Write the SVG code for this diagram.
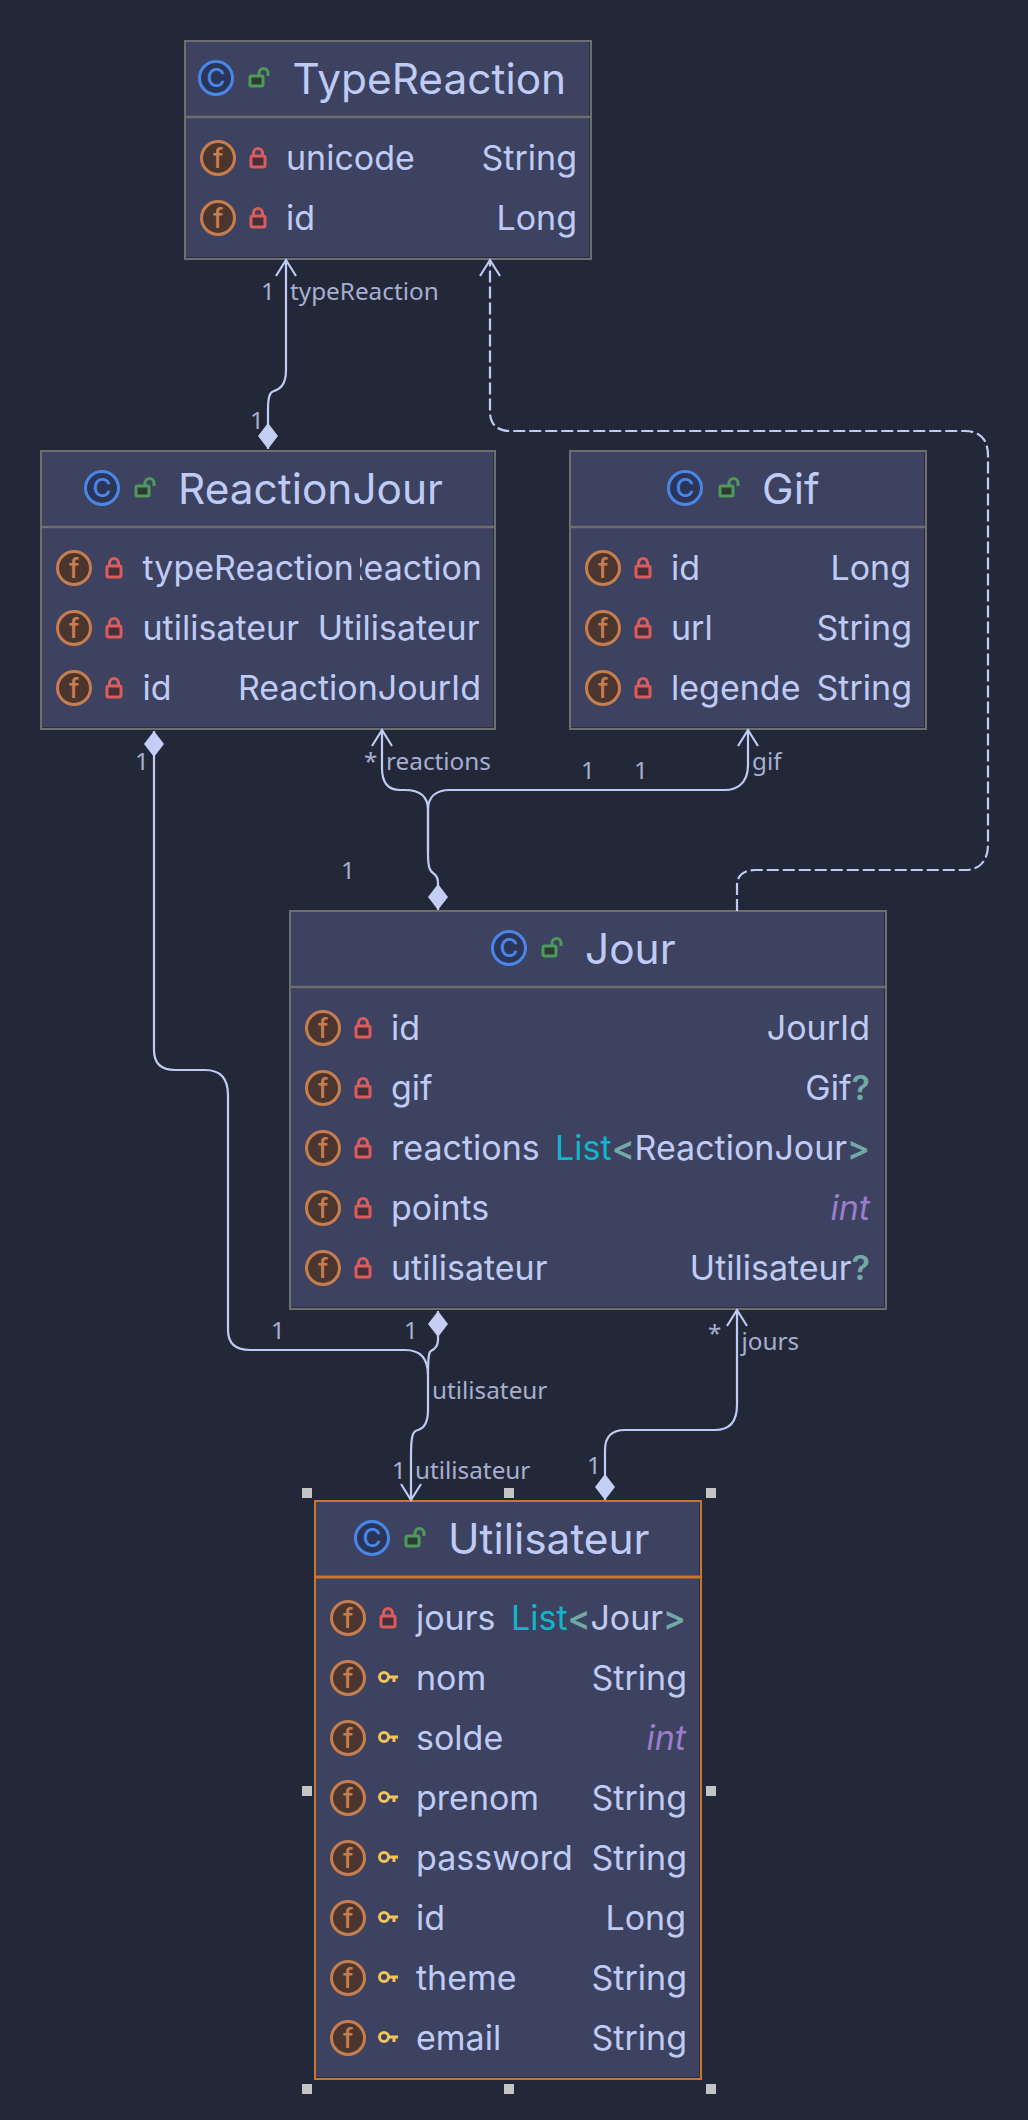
<svg xmlns="http://www.w3.org/2000/svg" width="1028" height="2120" viewBox="0 0 1028 2120">
<style>
.box{fill:#3c4260;stroke:#6d6e6e;stroke-width:2}
.sel{fill:#3c4260;stroke:#c7752f;stroke-width:2}
.hd{stroke:#6d6e6e;stroke-width:2.5}
.hds{stroke:#c7752f;stroke-width:3}
.in{fill:none;stroke:#2a2e40;stroke-width:1}
.title{font:42.4px Inter,"Liberation Sans",sans-serif;fill:#bfcbf5}
.n{font:34px Inter,"Liberation Sans",sans-serif;fill:#bfcbf5}
.t{font:34px Inter,"Liberation Sans",sans-serif;fill:#bfcbf5;text-anchor:end}
.cI{fill:#2a3557;stroke:#4a86e8;stroke-width:3}
.cT{font:500 26px Inter,"Liberation Sans",sans-serif;fill:#4a86e8;text-anchor:middle}
.fI{fill:#4a362e;stroke:#c77d4e;stroke-width:3}
.fT{font:500 27px Inter,"Liberation Sans",sans-serif;fill:#c77d4e;text-anchor:middle}
.l{font:24.3px "Noto Sans","Open Sans",sans-serif;fill:#a7aed0}
.e{fill:none;stroke:#bfcbf5;stroke-width:2.2}
.d{stroke-dasharray:12 4}
.list{fill:#12b5cb}.op{fill:#72a8a8;font-weight:600}.int{fill:#9a7ecc;font-style:italic}
.h{fill:#c4c4c4}
</style>
<defs>
<marker id="arrow" markerUnits="userSpaceOnUse" markerWidth="20" markerHeight="24" overflow="visible" orient="auto" refX="0" refY="0"><path d="M-16 -10L0 0L-16 10" fill="none" stroke="#bfcbf5" stroke-width="2.2"/></marker>
<marker id="dia" markerUnits="userSpaceOnUse" markerWidth="30" markerHeight="24" overflow="visible" orient="auto" refX="0" refY="0"><path d="M0 0L13 -10L26 0L13 10Z" fill="#c5cff5"/></marker>
<g id="lock"><rect x="-7" y="-2" width="14" height="11" rx="1.5" fill="#45303a" stroke="#db5c5c" stroke-width="3"/><path d="M-4.500 -2V-5a4.500 4.500 0 0 1 9 0V-2" fill="none" stroke="#db5c5c" stroke-width="3"/></g>
<g id="unlock"><rect x="-8" y="-2" width="13" height="10" rx="1.5" fill="#2d3a33" stroke="#4f9a5a" stroke-width="3"/><path d="M1 -2V-5a4.500 4.500 0 0 1 9 0V-2" fill="none" stroke="#4f9a5a" stroke-width="3"/></g>
<g id="key"><g fill="none" stroke="#f2c55c" stroke-width="3"><circle cx="-4" cy="-1" r="4.500"/><path d="M0.500 -1H10M6 -1V4"/></g></g>
<clipPath id="clipT"><rect x="360" y="540" width="130" height="50"/></clipPath>
</defs>
<rect width="1028" height="2120" fill="#232838"/>

<g id="TypeReaction">
<rect class="box" x="185" y="41" width="406" height="218"/>
<path class="in" d="M186 257.500H589.500V42"/>
<line class="hd" x1="186" y1="117" x2="590" y2="117"/>
<circle class="cI" cx="216" cy="78" r="16.500"/><text class="cT" x="216" y="87">C</text>
<use href="#unlock" x="258" y="78"/>
<text class="title" x="292.500" y="94">TypeReaction</text>
<circle class="fI" cx="218" cy="158" r="16.500"/><text class="fT" x="218" y="167.500">f</text><use href="#lock" x="258" y="158"/>
<text class="n" x="286" y="169.500">unicode</text><text class="t" x="577" y="169.500">String</text>
<circle class="fI" cx="218" cy="218" r="16.500"/><text class="fT" x="218" y="227.500">f</text><use href="#lock" x="258" y="218"/>
<text class="n" x="286" y="229.500">id</text><text class="t" x="577" y="229.500">Long</text>
</g>

<g id="ReactionJour">
<rect class="box" x="41" y="451" width="454" height="278"/>
<path class="in" d="M42 727.500H493.500V452"/>
<line class="hd" x1="42" y1="527" x2="494" y2="527"/>
<circle class="cI" cx="102" cy="488" r="16.500"/><text class="cT" x="102" y="497">C</text>
<use href="#unlock" x="144" y="488"/>
<text class="title" x="178" y="504">ReactionJour</text>
<circle class="fI" cx="74" cy="568" r="16.500"/><text class="fT" x="74" y="577.500">f</text><use href="#lock" x="114" y="568"/>
<text class="n" x="142.500" y="580">typeReaction</text><text class="t" x="482" y="580" clip-path="url(#clipT)">TypeReaction</text>
<circle class="fI" cx="74" cy="628" r="16.500"/><text class="fT" x="74" y="637.500">f</text><use href="#lock" x="114" y="628"/>
<text class="n" x="142.500" y="640">utilisateur</text><text class="t" x="479.500" y="640">Utilisateur</text>
<circle class="fI" cx="74" cy="688" r="16.500"/><text class="fT" x="74" y="697.500">f</text><use href="#lock" x="114" y="688"/>
<text class="n" x="142.500" y="700">id</text><text class="t" x="481" y="700">ReactionJourId</text>
</g>

<g id="Gif">
<rect class="box" x="570" y="451" width="356" height="278"/>
<path class="in" d="M571 727.500H924.500V452"/>
<line class="hd" x1="571" y1="527" x2="925" y2="527"/>
<circle class="cI" cx="685" cy="488" r="16.500"/><text class="cT" x="685" y="497">C</text>
<use href="#unlock" x="728" y="488"/>
<text class="title" x="762" y="504">Gif</text>
<circle class="fI" cx="603" cy="568" r="16.500"/><text class="fT" x="603" y="577.500">f</text><use href="#lock" x="643" y="568"/>
<text class="n" x="671" y="580">id</text><text class="t" x="911" y="580">Long</text>
<circle class="fI" cx="603" cy="628" r="16.500"/><text class="fT" x="603" y="637.500">f</text><use href="#lock" x="643" y="628"/>
<text class="n" x="671" y="640">url</text><text class="t" x="912" y="640">String</text>
<circle class="fI" cx="603" cy="688" r="16.500"/><text class="fT" x="603" y="697.500">f</text><use href="#lock" x="643" y="688"/>
<text class="n" x="671" y="700">legende</text><text class="t" x="912" y="700">String</text>
</g>

<g id="Jour">
<rect class="box" x="290" y="911" width="596" height="398"/>
<path class="in" d="M291 1307.500H884.500V912"/>
<line class="hd" x1="291" y1="987" x2="885" y2="987"/>
<circle class="cI" cx="509" cy="948" r="16.500"/><text class="cT" x="509" y="957">C</text>
<use href="#unlock" x="551" y="948"/>
<text class="title" x="585" y="964">Jour</text>
<circle class="fI" cx="323" cy="1028" r="16.500"/><text class="fT" x="323" y="1037.500">f</text><use href="#lock" x="363" y="1028"/>
<text class="n" x="391" y="1039.500">id</text><text class="t" x="870" y="1039.500">JourId</text>
<circle class="fI" cx="323" cy="1088" r="16.500"/><text class="fT" x="323" y="1097.500">f</text><use href="#lock" x="363" y="1088"/>
<text class="n" x="391" y="1099.500">gif</text><text class="t" x="870" y="1099.500">Gif<tspan class="op">?</tspan></text>
<circle class="fI" cx="323" cy="1148" r="16.500"/><text class="fT" x="323" y="1157.500">f</text><use href="#lock" x="363" y="1148"/>
<text class="n" x="391" y="1159.500">reactions</text><text class="t" x="870" y="1159.500"><tspan class="list">List</tspan><tspan class="op">&lt;</tspan>ReactionJour<tspan class="op">&gt;</tspan></text>
<circle class="fI" cx="323" cy="1208" r="16.500"/><text class="fT" x="323" y="1217.500">f</text><use href="#lock" x="363" y="1208"/>
<text class="n" x="391" y="1219.500">points</text><text class="t int" x="870" y="1219.500">int</text>
<circle class="fI" cx="323" cy="1268" r="16.500"/><text class="fT" x="323" y="1277.500">f</text><use href="#lock" x="363" y="1268"/>
<text class="n" x="391" y="1279.500">utilisateur</text><text class="t" x="870" y="1279.500">Utilisateur<tspan class="op">?</tspan></text>
</g>

<g id="Utilisateur">
<rect class="sel" x="315" y="1501" width="386" height="578"/>
<path class="in" d="M316 2077.500H699.500V1502"/>
<line class="hds" x1="316" y1="1577" x2="700" y2="1577"/>
<circle class="cI" cx="372" cy="1538" r="16.500"/><text class="cT" x="372" y="1547">C</text>
<use href="#unlock" x="414" y="1538"/>
<text class="title" x="448" y="1554">Utilisateur</text>
<circle class="fI" cx="348" cy="1618" r="16.500"/><text class="fT" x="348" y="1627.500">f</text><use href="#lock" x="388" y="1618"/>
<text class="n" x="416" y="1630">jours</text><text class="t" x="686" y="1630"><tspan class="list">List</tspan><tspan class="op">&lt;</tspan>Jour<tspan class="op">&gt;</tspan></text>
<circle class="fI" cx="348" cy="1678" r="16.500"/><text class="fT" x="348" y="1687.500">f</text><use href="#key" x="388" y="1678"/>
<text class="n" x="416" y="1690">nom</text><text class="t" x="687" y="1690">String</text>
<circle class="fI" cx="348" cy="1738" r="16.500"/><text class="fT" x="348" y="1747.500">f</text><use href="#key" x="388" y="1738"/>
<text class="n" x="416" y="1750">solde</text><text class="t int" x="686" y="1750">int</text>
<circle class="fI" cx="348" cy="1798" r="16.500"/><text class="fT" x="348" y="1807.500">f</text><use href="#key" x="388" y="1798"/>
<text class="n" x="416" y="1810">prenom</text><text class="t" x="687" y="1810">String</text>
<circle class="fI" cx="348" cy="1858" r="16.500"/><text class="fT" x="348" y="1867.500">f</text><use href="#key" x="388" y="1858"/>
<text class="n" x="416" y="1870">password</text><text class="t" x="687" y="1870">String</text>
<circle class="fI" cx="348" cy="1918" r="16.500"/><text class="fT" x="348" y="1927.500">f</text><use href="#key" x="388" y="1918"/>
<text class="n" x="416" y="1930">id</text><text class="t" x="686" y="1930">Long</text>
<circle class="fI" cx="348" cy="1978" r="16.500"/><text class="fT" x="348" y="1987.500">f</text><use href="#key" x="388" y="1978"/>
<text class="n" x="416" y="1990">theme</text><text class="t" x="687" y="1990">String</text>
<circle class="fI" cx="348" cy="2038" r="16.500"/><text class="fT" x="348" y="2047.500">f</text><use href="#key" x="388" y="2038"/>
<text class="n" x="416" y="2050">email</text><text class="t" x="687" y="2050">String</text>
<g class="h"><rect x="302" y="1488" width="10" height="10"/><rect x="504" y="1488" width="10" height="10"/><rect x="706" y="1488" width="10" height="10"/><rect x="302" y="1786" width="10" height="10"/><rect x="706" y="1786" width="10" height="10"/><rect x="302" y="2084" width="10" height="10"/><rect x="504" y="2084" width="10" height="10"/><rect x="706" y="2084" width="10" height="10"/></g>
</g>

<g id="connectors">
<path class="e" marker-start="url(#dia)" marker-end="url(#arrow)" d="M268 449V410C268 396 270 392 274 391C280 389 286 385 286 370V260"/>
<path class="e d" marker-end="url(#arrow)" d="M737 911V885C737 875 745 870 755 870H965C980 870 988 860 988 845V455C988 440 980 431 965 431H510C498 431 490 425 490 412V260"/>
<path class="e" marker-start="url(#dia)" marker-end="url(#arrow)" d="M438 910V883C438 877 436 875 433 873C430 871 428 868 428 853V810C428 797 420 790 405 790H400C388 790 382 782 382 768V730"/>
<path class="e" marker-end="url(#arrow)" d="M428 853V810C428 797 436 790 450 790H725C735 790 748 785 748 765V730"/>
<path class="e" marker-start="url(#dia)" marker-end="url(#arrow)" d="M154 731V1050C154 1063 160 1070 175 1070H205C220 1070 228 1078 228 1095V1330C228 1343 235 1350 250 1350H405C420 1350 428 1358 428 1375V1410C428 1422 425 1428 418 1430C413 1431 411 1435 411 1455V1500"/>
<path class="e" marker-start="url(#dia)" d="M438 1311V1340C438 1346 435 1349 431 1351C429 1352 428 1356 428 1375"/>
<path class="e" marker-start="url(#dia)" marker-end="url(#arrow)" d="M605 1500V1450C605 1437 612 1430 625 1430H715C730 1430 737 1422 737 1405V1310"/>
<g id="labels">
<text class="l" x="261" y="300">1</text><text class="l" x="290" y="300">typeReaction</text>
<text class="l" x="250" y="429">1</text>
<text class="l" x="135" y="770">1</text>
<text class="l" x="364" y="770">*</text><text class="l" x="386" y="770">reactions</text>
<text class="l" x="581" y="779">1</text><text class="l" x="634" y="779">1</text>
<text class="l" x="752" y="770">gif</text>
<text class="l" x="341" y="879">1</text>
<text class="l" x="271" y="1339">1</text><text class="l" x="404" y="1339">1</text>
<text class="l" x="708" y="1342">*</text><text class="l" x="741.500" y="1350">jours</text>
<text class="l" x="432" y="1399">utilisateur</text>
<text class="l" x="392" y="1479">1</text><text class="l" x="415" y="1479">utilisateur</text>
<text class="l" x="587" y="1474">1</text>
</g>
</g>
</svg>
